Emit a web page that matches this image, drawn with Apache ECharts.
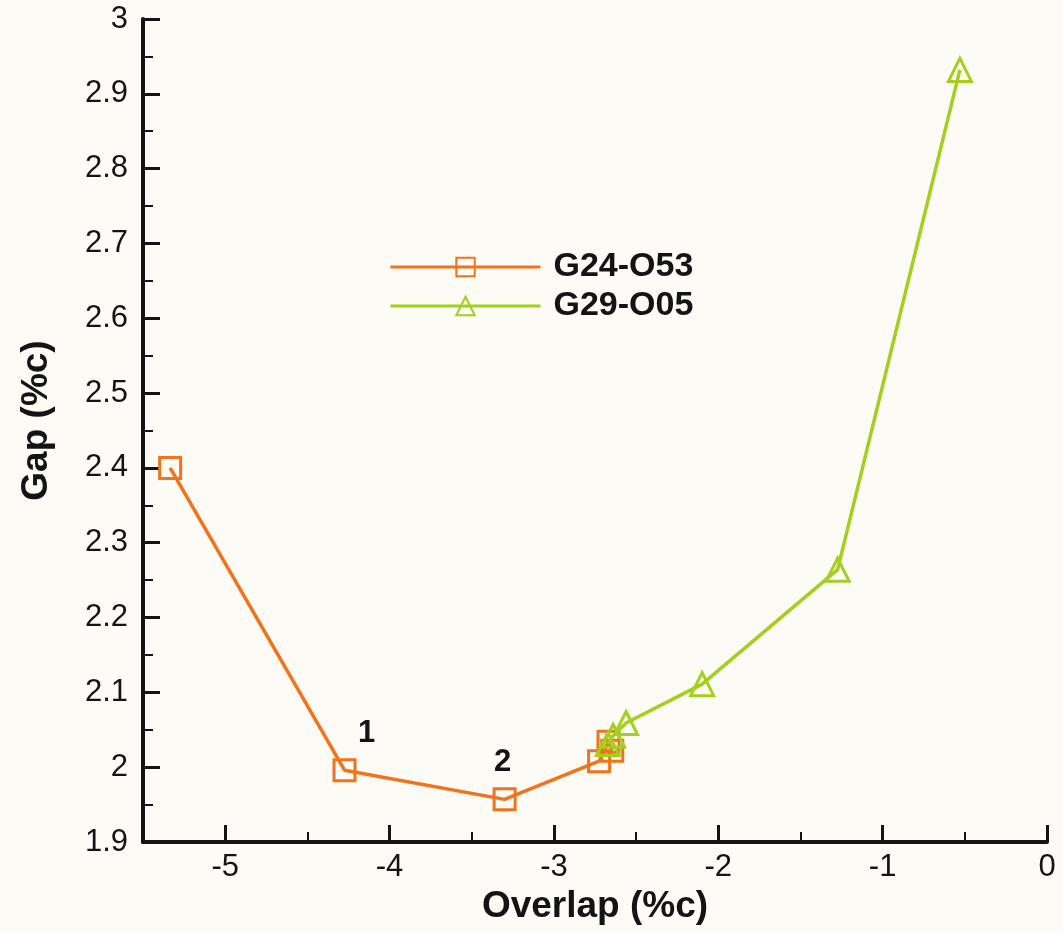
<!DOCTYPE html>
<html>
<head>
<meta charset="utf-8">
<script src="https://cdn.jsdelivr.net/npm/echarts@6/dist/echarts.min.js"></script>
<style>
  html, body { margin: 0; padding: 0; background: #fcfbf5; }
  #chart { width: 1063px; height: 932px; }
</style>
</head>
<body>
<div id="chart"></div>
<script>
// Gap vs. overlap for two slat configurations
const seriesNames = ['G24-O53', 'G29-O05'];

const overlapG24 = [-5.335, -4.274, -3.300, -2.725, -2.668, -2.645];
const gapG24     = [2.400, 1.996, 1.957, 2.008, 2.034, 2.022];
const notesG24   = ['', '1', '2', '', '', ''];

const overlapG29 = [-0.530, -1.274, -2.098, -2.561, -2.640, -2.672];
const gapG29     = [2.932, 2.264, 2.111, 2.059, 2.042, 2.031];

const xMajorTicks = [-5, -4, -3, -2, -1, 0];
const xMinorTicks = [-4.5, -3.5, -2.5, -1.5, -0.5];
const yMajorTicks = [1.9, 2, 2.1, 2.2, 2.3, 2.4, 2.5, 2.6, 2.7, 2.8, 2.9, 3];

const ORANGE = '#f4721a';
const GREEN = '#a3cf1e';
const INK = '#141414';
const FONT = '"Liberation Sans", Arial, Helvetica, sans-serif';

const chart = echarts.init(document.getElementById('chart'), null, { renderer: 'canvas' });

function pairs(xs, ys) {
  return xs.map((x, i) => [x, ys[i]]);
}

const g24Data = pairs(overlapG24, gapG24).map((p, i) => {
  const item = { value: p };
  if (notesG24[i]) {
    item.label = {
      show: true,
      formatter: notesG24[i],
      position: 'inside',
      offset: i === 1 ? [22, -37] : [-2, -37],
      color: INK,
      fontFamily: FONT,
      fontWeight: 'bold',
      fontSize: 31
    };
  }
  return item;
});

const xBase = { type: 'value', min: -5.5, max: 0, gridIndex: 0 };

const option = {
  backgroundColor: '#fcfbf5',
  animation: false,
  grid: { left: 143, right: 16, top: 19, bottom: 90, containLabel: false },
  legend: {
    orient: 'vertical',
    left: 384,
    top: 245,
    itemWidth: 150,
    itemHeight: 23,
    itemGap: 5,
    data: seriesNames,
    lineStyle: { width: 3 },
    textStyle: {
      color: INK,
      fontFamily: FONT,
      fontWeight: 'bold',
      fontSize: 34,
      padding: [0, 0, 0, 8]
    }
  },
  xAxis: [
    Object.assign({}, xBase, {
      position: 'bottom',
      name: 'Overlap (%c)',
      nameLocation: 'middle',
      nameGap: 40,
      nameTextStyle: { color: INK, fontFamily: FONT, fontWeight: 'bold', fontSize: 37 },
      axisLine: { show: true, onZero: false, lineStyle: { color: INK, width: 4 } },
      axisTick: { show: true, inside: true, length: 17, customValues: xMajorTicks, lineStyle: { color: INK, width: 3 } },
      axisLabel: { show: true, customValues: xMajorTicks, margin: 10, color: INK, fontFamily: FONT, fontSize: 31 },
      splitLine: { show: false }
    }),
    Object.assign({}, xBase, {
      position: 'bottom',
      axisLine: { show: false },
      axisTick: { show: true, inside: true, length: 10, customValues: xMinorTicks, lineStyle: { color: INK, width: 2 } },
      axisLabel: { show: false },
      splitLine: { show: false }
    })
  ],
  yAxis: {
    type: 'value',
    min: 1.9,
    max: 3,
    interval: 0.1,
    position: 'left',
    name: 'Gap (%c)',
    nameLocation: 'middle',
    nameGap: 88,
    nameTextStyle: { color: INK, fontFamily: FONT, fontWeight: 'bold', fontSize: 37, padding: [0, 0, 0, 20] },
    axisLine: { show: true, onZero: false, lineStyle: { color: INK, width: 4 } },
    axisTick: { show: true, inside: true, length: 17, customValues: yMajorTicks, lineStyle: { color: INK, width: 3 } },
    minorTick: { show: true, splitNumber: 2, length: 10, lineStyle: { color: INK, width: 2 } },
    axisLabel: { show: true, customValues: yMajorTicks, margin: 15, color: INK, fontFamily: FONT, fontSize: 31 },
    splitLine: { show: false },
    minorSplitLine: { show: false }
  },
  series: [
    {
      name: seriesNames[0],
      type: 'line',
      xAxisIndex: 0,
      yAxisIndex: 0,
      data: g24Data,
      symbol: 'rect',
      symbolSize: 21,
      showAllSymbol: true,
      lineStyle: { color: ORANGE, width: 3.5 },
      itemStyle: { color: 'rgba(0,0,0,0)', borderColor: ORANGE, borderWidth: 3 },
      z: 3
    },
    {
      name: seriesNames[1],
      type: 'line',
      xAxisIndex: 0,
      yAxisIndex: 0,
      data: pairs(overlapG29, gapG29),
      symbol: 'triangle',
      symbolSize: 23,
      showAllSymbol: true,
      lineStyle: { color: GREEN, width: 3.5 },
      itemStyle: { color: 'rgba(0,0,0,0)', borderColor: GREEN, borderWidth: 3 },
      z: 4
    }
  ]
};

chart.setOption(option);
</script>
</body>
</html>
